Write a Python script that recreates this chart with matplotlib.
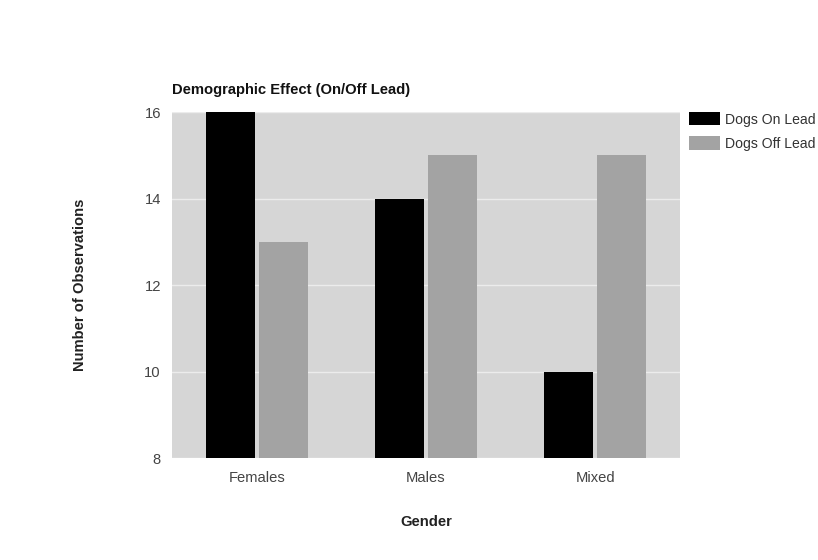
import matplotlib
matplotlib.use("Agg")
import matplotlib.pyplot as plt
import numpy as np

plt.rcParams['font.family'] = ['Liberation Sans', 'DejaVu Sans']

# ------ data ------
categories = ["Females", "Males", "Mixed"]
on_lead = [16, 14, 10]
off_lead = [13, 15, 15]
series_names = ["Dogs On Lead", "Dogs Off Lead"]
y_ticks = [8, 10, 12, 14, 16]

fs = 10.6

fig = plt.figure(figsize=(8.18, 5.6), dpi=100)
ax = fig.add_axes([0.2103, 0.182, 0.621, 0.618])
ax.set_facecolor("#d6d6d6")

x = np.arange(len(categories))
w = 0.29
off = 0.157
ax.bar(x - off, on_lead, w, color="black", label=series_names[0], zorder=3)
ax.bar(x + off, off_lead, w, color="#a3a3a3", label=series_names[1], zorder=3)

ax.set_xlim(-0.5, 2.5)
ax.set_ylim(8, 16)
ax.set_yticks(y_ticks)
ax.grid(axis="y", color="#ececec", linewidth=1, zorder=1)
for s in ax.spines.values():
    s.set_visible(False)
ax.tick_params(length=0, colors="#444444", labelsize=fs)
ax.tick_params(axis="y", pad=8)
ax.tick_params(axis="x", pad=9)
ax.set_xticks(x)
ax.set_xticklabels(categories)

ax.set_xlabel("Gender", fontsize=fs, fontweight="bold", color="#222222", labelpad=22)
ax.set_ylabel("Number of Observations", fontsize=fs, fontweight="bold", color="#222222", labelpad=41)
ax.set_title("Demographic Effect (On/Off Lead)", fontsize=fs, fontweight="bold",
             loc="left", pad=13, color="#111111")

ax.legend(loc="upper left", bbox_to_anchor=(1.018, 1.0), frameon=False, fontsize=10.1,
          handlelength=2.2, handleheight=1.1, labelcolor="#333333", handletextpad=0.35,
          labelspacing=0.7, borderaxespad=0, borderpad=0)

plt.savefig("out.png", dpi=100)
